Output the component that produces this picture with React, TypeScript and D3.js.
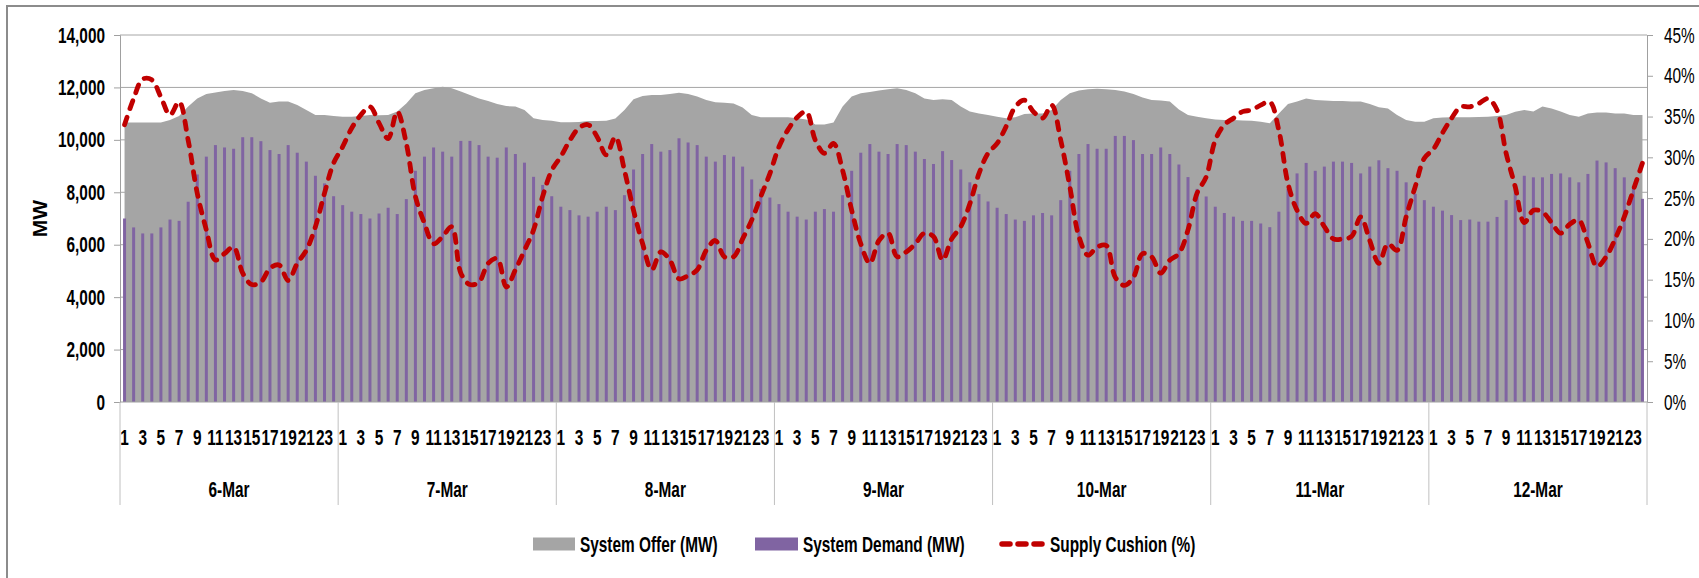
import React, { useEffect, useRef } from 'react';
import * as d3 from 'd3';

// categories
const days = ['6-Mar', '7-Mar', '8-Mar', '9-Mar', '10-Mar', '11-Mar', '12-Mar'];
const hours = [1, 2, 3, 4, 5, 6, 7, 8, 9, 10, 11, 12, 13, 14, 15, 16, 17, 18, 19, 20, 21, 22, 23, 24];

// System Demand (MW), hourly per day
const demand6Mar = [7000, 6660, 6430, 6430, 6660, 6960, 6910, 7640, 8680, 9360, 9800, 9710, 9660, 10100, 10100, 9950, 9610, 9460, 9800, 9510, 9170, 8630, 8340, 7850];
const demand7Mar = [7510, 7260, 7170, 7000, 7190, 7410, 7170, 7740, 8820, 9360, 9710, 9550, 9360, 9960, 9960, 9800, 9360, 9320, 9710, 9460, 9130, 8590, 8280, 7850];
const demand8Mar = [7450, 7320, 7120, 7070, 7260, 7450, 7320, 7890, 8870, 9460, 9840, 9550, 9610, 10060, 9900, 9800, 9360, 9170, 9420, 9360, 8980, 8490, 8130, 7800];
const demand9Mar = [7550, 7260, 7070, 6960, 7260, 7360, 7260, 7890, 8820, 9510, 9840, 9550, 9460, 9840, 9800, 9550, 9270, 9080, 9570, 9230, 8870, 8380, 7930, 7650];
const demand10Mar = [7410, 7170, 6960, 6910, 7120, 7210, 7120, 7700, 8820, 9460, 9840, 9660, 9660, 10150, 10150, 9990, 9460, 9460, 9710, 9460, 9060, 8580, 8130, 7840];
const demand11Mar = [7450, 7210, 7070, 6910, 6910, 6810, 6670, 7260, 8130, 8720, 9120, 8820, 8980, 9170, 9170, 9120, 8720, 8980, 9220, 8920, 8820, 8380, 7940, 7700];
const demand12Mar = [7450, 7300, 7130, 6940, 6960, 6880, 6880, 7060, 7700, 8120, 8630, 8570, 8570, 8700, 8720, 8570, 8380, 8700, 9210, 9140, 8920, 8570, 8150, 7750];

// System Offer (MW)
const offer6Mar = [10660, 10660, 10660, 10660, 10660, 10760, 10910, 11270, 11580, 11750, 11810, 11860, 11900, 11860, 11780, 11580, 11420, 11460, 11460, 11330, 11140, 10950, 10950, 10910];
const offer7Mar = [10880, 10880, 10910, 10950, 10940, 10950, 11080, 11390, 11780, 11900, 11970, 12030, 11970, 11840, 11710, 11580, 11480, 11370, 11290, 11270, 11140, 10820, 10760, 10730];
const offer8Mar = [10670, 10670, 10680, 10720, 10720, 10730, 10810, 11140, 11550, 11670, 11710, 11710, 11750, 11800, 11750, 11650, 11520, 11430, 11420, 11390, 11230, 10950, 10860, 10860];
const offer9Mar = [10860, 10860, 10820, 10780, 10590, 10590, 10660, 11270, 11650, 11780, 11830, 11880, 11930, 11970, 11900, 11780, 11580, 11520, 11550, 11520, 11270, 11080, 11010, 10950];
const offer10Mar = [10880, 10820, 10860, 10990, 11010, 11010, 11140, 11520, 11780, 11880, 11930, 11950, 11930, 11900, 11840, 11750, 11620, 11520, 11500, 11460, 11160, 10950, 10880, 10820];
const offer11Mar = [10780, 10760, 10760, 10740, 10730, 10690, 10630, 11010, 11370, 11460, 11580, 11520, 11500, 11480, 11480, 11460, 11460, 11370, 11240, 11200, 10950, 10760, 10690, 10690];
const offer12Mar = [10820, 10850, 10860, 10860, 10860, 10870, 10880, 10910, 10950, 11070, 11140, 11080, 11270, 11200, 11080, 10950, 10880, 11010, 11040, 11040, 11010, 11010, 10950, 10950];

// Supply Cushion (%)
const cushion6Mar = [34.0, 37.2, 39.6, 39.5, 37.4, 35.2, 36.8, 32.1, 25.6, 21.1, 17.4, 18.2, 19.0, 15.8, 14.4, 14.7, 16.4, 16.8, 14.9, 17.0, 18.6, 21.5, 25.6, 29.3];
const cushion7Mar = [31.3, 33.6, 35.2, 36.2, 34.2, 32.3, 35.6, 31.7, 25.2, 21.9, 19.4, 20.3, 21.5, 15.8, 14.4, 14.7, 17.0, 17.6, 14.1, 16.2, 18.6, 21.1, 25.2, 28.4];
const cushion8Mar = [30.1, 32.1, 33.6, 34.0, 32.5, 30.3, 32.5, 28.4, 23.5, 19.4, 16.2, 18.4, 17.4, 15.1, 15.5, 16.2, 18.6, 19.8, 17.8, 17.8, 20.0, 22.3, 25.2, 28.0];
const cushion9Mar = [31.3, 33.4, 34.9, 35.6, 32.1, 30.5, 31.7, 28.4, 23.5, 19.4, 17.0, 19.8, 20.7, 17.8, 18.4, 19.4, 20.7, 20.3, 17.4, 20.0, 21.5, 24.3, 28.0, 30.5];
const cushion10Mar = [31.7, 33.8, 36.2, 37.0, 35.6, 34.8, 36.4, 32.1, 26.4, 20.3, 18.0, 19.0, 19.2, 15.3, 14.3, 15.3, 18.2, 17.8, 15.8, 17.4, 18.2, 21.1, 25.6, 27.6];
const cushion11Mar = [32.1, 34.0, 34.8, 35.6, 35.8, 36.4, 36.8, 33.3, 26.8, 23.5, 21.9, 23.1, 21.5, 20.0, 20.0, 20.3, 22.7, 19.8, 17.0, 19.4, 18.6, 22.7, 26.4, 29.9];
const cushion12Mar = [31.0, 33.0, 34.8, 36.2, 36.2, 36.6, 37.2, 35.8, 30.5, 26.4, 22.0, 23.5, 23.3, 22.0, 20.7, 21.8, 22.3, 19.5, 16.6, 17.8, 20.0, 22.7, 26.0, 29.3];

const mwTicks = [0, 2000, 4000, 6000, 8000, 10000, 12000, 14000];
const pctTicks = [0, 5, 10, 15, 20, 25, 30, 35, 40, 45];

const demandByDay = [demand6Mar, demand7Mar, demand8Mar, demand9Mar, demand10Mar, demand11Mar, demand12Mar];
const offerByDay = [offer6Mar, offer7Mar, offer8Mar, offer9Mar, offer10Mar, offer11Mar, offer12Mar];
const cushionByDay = [cushion6Mar, cushion7Mar, cushion8Mar, cushion9Mar, cushion10Mar, cushion11Mar, cushion12Mar];

const FONT = "'Liberation Sans', Arial, sans-serif";
const FS = '22px';
const SQUEEZE = 0.7; // narrow the glyphs, the original uses a condensed face

// squeeze texts horizontally, keeping their anchor where it was
const condense = (sel, s = SQUEEZE) => {
  sel.each(function () {
    const t = d3.select(this);
    const xv = +(t.attr('x') || 0);
    t.attr('x', xv / s).attr('transform', `scale(${s},1)`);
  });
};

const App = () => {
  const svgRef = useRef(null);
  const width = 1699, height = 578;

  useEffect(() => {
    const rows = [];
    days.forEach((day, di) => {
      hours.forEach((h, hi) => {
        rows.push({
          i: rows.length,
          day, hour: h,
          demand: demandByDay[di][hi],
          offer: offerByDay[di][hi],
          cushion: cushionByDay[di][hi],
        });
      });
    });

    const margin = { top: 35, right: 52, bottom: 176, left: 120 };
    const x0 = margin.left, x1 = width - margin.right;
    const yTop = margin.top, yBot = height - margin.bottom;

    const svg = d3.select(svgRef.current);
    svg.selectAll('*').remove();

    const x = d3.scaleBand().domain(rows.map(d => d.i)).range([x0, x1]).padding(0);
    const cx = d => x(d.i) + x.bandwidth() / 2;
    const xDay = d3.scaleBand().domain(days).range([x0, x1]);
    const y = d3.scaleLinear().domain([0, 14000]).range([yBot, yTop]);
    const yPct = d3.scaleLinear().domain([0, 45]).range([yBot, yTop]);

    // outer frame
    svg.append('rect')
      .attr('x', 7).attr('y', 6)
      .attr('width', width).attr('height', height + 20)
      .attr('fill', 'white').attr('stroke', '#8c8c8c').attr('stroke-width', 2);

    // gridlines
    svg.append('g').selectAll('line')
      .data(mwTicks.filter(t => t > 0))
      .join('line')
      .attr('x1', x0).attr('x2', x1)
      .attr('y1', d => y(d)).attr('y2', d => y(d))
      .attr('stroke', '#a6a6a6').attr('stroke-width', 1);

    // offer area
    const area = d3.area()
      .x(cx)
      .y0(y(0))
      .y1(d => y(d.offer));
    svg.append('path')
      .datum(rows)
      .attr('fill', '#a5a5a5')
      .attr('d', area);

    // demand bars
    const barW = 3;
    svg.append('g').selectAll('rect')
      .data(rows)
      .join('rect')
      .attr('x', d => cx(d) - barW / 2)
      .attr('width', barW)
      .attr('y', d => y(d.demand))
      .attr('height', d => y(0) - y(d.demand))
      .attr('fill', '#8064a2');

    // left axis
    const yAxisG = svg.append('g')
      .attr('transform', `translate(${x0},0)`)
      .call(d3.axisLeft(y).tickValues(mwTicks).tickSize(6).tickPadding(9).tickFormat(d3.format(',')));
    yAxisG.select('.domain').attr('stroke', '#a0a0a0');
    yAxisG.selectAll('.tick line').attr('stroke', '#a0a0a0');
    yAxisG.selectAll('text')
      .style('font-family', FONT).style('font-weight', '700')
      .style('font-size', FS).style('fill', 'black')
      .call(condense);

    // right axis
    const yRightG = svg.append('g')
      .attr('transform', `translate(${x1},0)`)
      .call(d3.axisRight(yPct).tickValues(pctTicks).tickSize(6).tickPadding(11).tickFormat(d => d + '%'));
    yRightG.select('.domain').attr('stroke', '#a0a0a0');
    yRightG.selectAll('.tick line').attr('stroke', '#a0a0a0');
    yRightG.selectAll('text')
      .style('font-family', FONT).style('font-weight', '400')
      .style('font-size', FS).style('fill', 'black')
      .call(condense);

    // bottom axis line
    svg.append('line')
      .attr('x1', x0).attr('x2', x1)
      .attr('y1', yBot).attr('y2', yBot)
      .attr('stroke', '#a0a0a0');

    // hour labels
    const hourAxis = svg.append('g')
      .attr('transform', `translate(0,${yBot})`)
      .call(d3.axisBottom(x)
        .tickValues(rows.filter(d => d.hour % 2 === 1).map(d => d.i))
        .tickSize(0).tickPadding(27)
        .tickFormat(i => String(rows[i].hour)));
    hourAxis.select('.domain').remove();
    hourAxis.selectAll('text')
      .style('font-family', FONT).style('font-weight', '700')
      .style('font-size', FS).style('fill', 'black')
      .call(condense);

    // day labels
    const dayAxis = svg.append('g')
      .attr('transform', `translate(0,${yBot})`)
      .call(d3.axisBottom(xDay).tickSize(0).tickPadding(79));
    dayAxis.select('.domain').remove();
    dayAxis.selectAll('text')
      .style('font-family', FONT).style('font-weight', '700')
      .style('font-size', FS).style('fill', 'black')
      .call(condense);

    // day dividers
    const bounds = days.map(d => xDay(d)).concat([x1]);
    svg.append('g').selectAll('line')
      .data(bounds)
      .join('line')
      .attr('x1', d => d).attr('x2', d => d)
      .attr('y1', yBot).attr('y2', yBot + 103)
      .attr('stroke', '#c0c0c0');

    // y title
    svg.append('text')
      .attr('transform', `translate(47,${(yTop + yBot) / 2}) rotate(-90)`)
      .attr('text-anchor', 'middle')
      .style('font-family', FONT).style('font-weight', '700')
      .style('font-size', '21px')
      .text('MW');

    // cushion line
    const line = d3.line()
      .x(cx)
      .y(d => yPct(d.cushion))
      .curve(d3.curveCatmullRom.alpha(0.5));
    svg.append('path')
      .datum(rows)
      .attr('fill', 'none')
      .attr('stroke', '#c00000')
      .attr('stroke-width', 4.8)
      .attr('stroke-linecap', 'round')
      .attr('stroke-dasharray', '8,9')
      .attr('d', line);

    // legend
    const legY = 544;
    const leg = svg.append('g');
    leg.append('rect').attr('x', 533).attr('y', legY - 6.5).attr('width', 42).attr('height', 13).attr('fill', '#a5a5a5');
    leg.append('text').attr('x', 580).attr('y', legY).attr('dy', '0.35em').text('System Offer (MW)');
    leg.append('rect').attr('x', 755).attr('y', legY - 6.5).attr('width', 43).attr('height', 13).attr('fill', '#8064a2');
    leg.append('text').attr('x', 803).attr('y', legY).attr('dy', '0.35em').text('System Demand (MW)');
    leg.append('line')
      .attr('x1', 1002).attr('x2', 1043).attr('y1', legY).attr('y2', legY)
      .attr('stroke', '#c00000').attr('stroke-width', 5.5)
      .attr('stroke-linecap', 'round').attr('stroke-dasharray', '8,8');
    leg.append('text').attr('x', 1050).attr('y', legY).attr('dy', '0.35em').text('Supply Cushion (%)');
    leg.selectAll('text')
      .style('font-family', FONT).style('font-weight', '700')
      .style('font-size', FS).style('fill', 'black')
      .call(condense);
  }, []);

  return (
    <svg ref={svgRef} width={width} height={height}
      style={{ position: 'absolute', left: 0, top: 0, background: 'white' }} />
  );
};

export default App;
